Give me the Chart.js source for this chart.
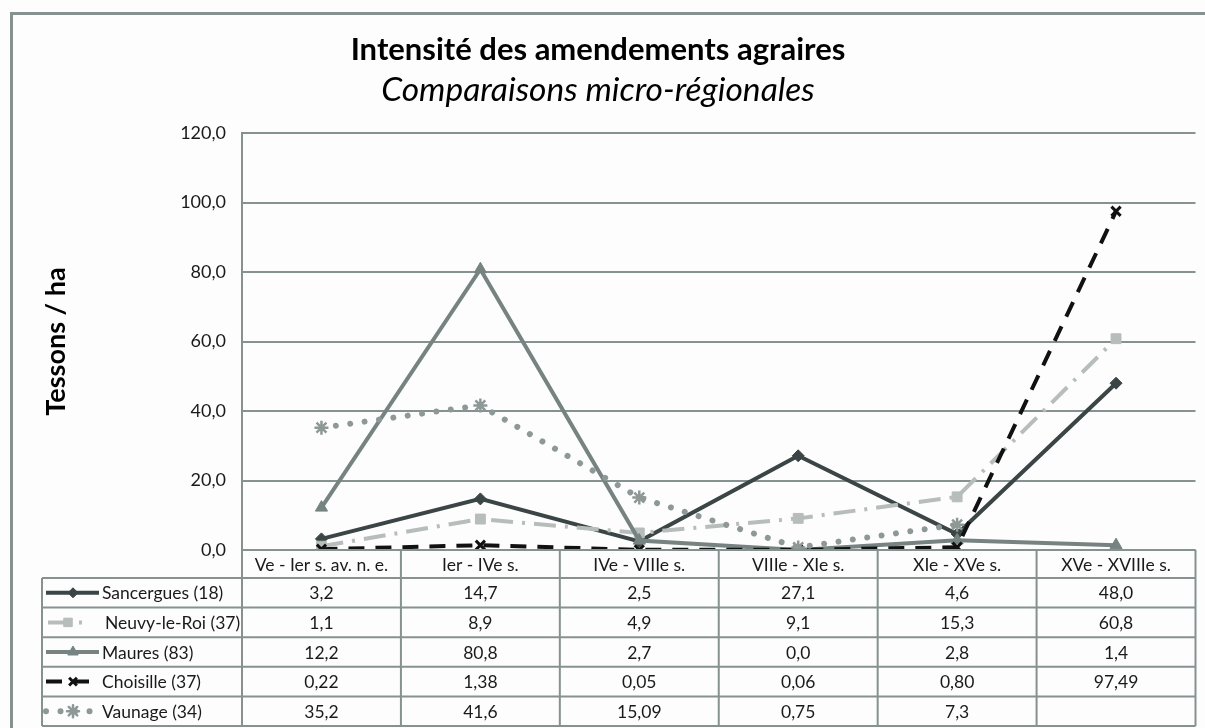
<!DOCTYPE html>
<html>
<head>
<meta charset="utf-8">
<script src="https://cdn.jsdelivr.net/npm/chart.js@4.4.1/dist/chart.umd.min.js"></script>
<style>
  html, body { margin: 0; padding: 0; background: #fdfdfd; }
  canvas { display: block; }
</style>
</head>
<body>
<canvas id="c" width="1205" height="728"></canvas>
<script>
// ---- data ----
const categories = ['Ve - Ier s. av. n. e.', 'Ier - IVe s.', 'IVe - VIIIe s.', 'VIIIe - XIe s.', 'XIe - XVe s.', 'XVe - XVIIIe s.'];
const seriesNames = ['Sancergues (18)', 'Neuvy-le-Roi (37)', 'Maures (83)', 'Choisille (37)', 'Vaunage (34)'];
const sancergues = [3.2, 14.7, 2.5, 27.1, 4.6, 48.0];
const neuvy = [1.1, 8.9, 4.9, 9.1, 15.3, 60.8];
const maures = [12.2, 80.8, 2.7, 0.0, 2.8, 1.4];
const choisille = [0.22, 1.38, 0.05, 0.06, 0.80, 97.49];
const vaunage = [35.2, 41.6, 15.09, 0.75, 7.3, null];
// decimals shown in the data table
const sancerguesDec = [1, 1, 1, 1, 1, 1];
const neuvyDec = [1, 1, 1, 1, 1, 1];
const mauresDec = [1, 1, 1, 1, 1, 1];
const choisilleDec = [2, 2, 2, 2, 2, 2];
const vaunageDec = [1, 1, 2, 2, 1, 1];
const yTicks = [0, 20, 40, 60, 80, 100, 120];

const FONT = 'Lato, "Open Sans", sans-serif';
const GRID = '#86928f';
const TXT = '#1a1a1a';

const styles = [
  { color: '#3b4545', dash: [], width: 4, point: 'rectRot', r: 6, pbw: 1 },
  { color: '#b7bdbb', dash: [22, 9, 3, 9], width: 4, point: 'rect', r: 7, pbw: 1 },
  { color: '#768381', dash: [], width: 4, point: 'triangle', r: 7, pbw: 1 },
  { color: '#111111', dash: [16, 11], width: 4, point: 'crossRot', r: 6.5, pbw: 3 },
  { color: '#8e9896', dash: [0.01, 14.5], width: 6, point: 'star', r: 7, pbw: 2.5, cap: 'round' }
];
const values = [sancergues, neuvy, maures, choisille, vaunage];
const decs = [sancerguesDec, neuvyDec, mauresDec, choisilleDec, vaunageDec];

const fmt = (v, d) => (v === null || v === undefined) ? '' : v.toFixed(d).replace('.', ',');

const datasets = values.map((vals, i) => {
  const s = styles[i];
  return {
    label: seriesNames[i],
    data: vals,
    borderColor: s.color,
    backgroundColor: s.color,
    borderWidth: s.width,
    borderDash: s.dash,
    borderCapStyle: s.cap || 'butt',
    pointStyle: s.point,
    pointRadius: s.r,
    pointBorderWidth: s.pbw,
    pointBackgroundColor: s.color,
    pointBorderColor: s.color,
    tension: 0,
    spanGaps: false,
    order: 5 - i
  };
});

const frameAndTable = {
  id: 'frameAndTable',
  beforeDraw(chart) {
    const ctx = chart.ctx;
    ctx.save();
    ctx.fillStyle = '#fdfdfd';
    ctx.fillRect(0, 0, chart.width, chart.height);
    ctx.strokeStyle = GRID;
    ctx.lineWidth = 3;
    ctx.strokeRect(11.5, 13.5, 1400, 900);
    ctx.restore();
  },
  afterDraw(chart) {
    const ctx = chart.ctx;
    const xs = chart.scales.x;
    const area = chart.chartArea;
    const colW = (area.right - area.left) / categories.length;
    const headTop = area.bottom;
    const headH = 28;
    const rowH = 29.6;
    const legL = 42;
    const tableBottom = headTop + headH + rowH * seriesNames.length;
    ctx.save();
    ctx.strokeStyle = GRID;
    ctx.lineWidth = 2;
    ctx.beginPath();
    ctx.moveTo(area.left, headTop); ctx.lineTo(area.right, headTop);
    for (let r = 0; r <= seriesNames.length; r++) {
      const y = headTop + headH + r * rowH;
      ctx.moveTo(legL, y); ctx.lineTo(area.right, y);
    }
    ctx.moveTo(legL, headTop + headH); ctx.lineTo(legL, tableBottom);
    for (let c = 0; c <= categories.length; c++) {
      const x = area.left + c * colW;
      ctx.moveTo(x, headTop); ctx.lineTo(x, tableBottom);
    }
    ctx.stroke();

    ctx.fillStyle = TXT;
    ctx.font = '17.5px ' + FONT;
    ctx.textAlign = 'center';
    ctx.textBaseline = 'middle';
    categories.forEach((c, i) => {
      ctx.fillText(c, xs.getPixelForValue(i), headTop + headH / 2 + 1);
    });
    values.forEach((vals, r) => {
      const yc = headTop + headH + r * rowH + rowH / 2 + 1;
      vals.forEach((v, i) => {
        ctx.fillText(fmt(v, decs[r][i]), xs.getPixelForValue(i), yc);
      });
    });
    values.forEach((vals, r) => {
      const s = styles[r];
      const yc = headTop + headH + r * rowH + rowH / 2;
      ctx.save();
      ctx.strokeStyle = s.color;
      ctx.fillStyle = s.color;
      ctx.lineWidth = s.width;
      ctx.lineCap = s.cap || 'butt';
      ctx.setLineDash(s.dash);
      ctx.beginPath();
      const x0 = r === 1 ? 48 : 46, x1 = r === 1 ? 88 : 99;
      ctx.moveTo(x0, yc); ctx.lineTo(x1, yc);
      ctx.stroke();
      ctx.setLineDash([]);
      ctx.lineWidth = s.pbw;
      Chart.helpers.drawPoint(ctx, { pointStyle: s.point, radius: s.r - 1, rotation: 0, borderWidth: s.pbw }, r === 1 ? 68 : 73, yc);
      ctx.restore();
      ctx.fillStyle = TXT;
      ctx.textAlign = 'left';
      ctx.font = '17.5px ' + FONT;
      ctx.fillText(seriesNames[r], r === 1 ? 105 : 102, yc + 1);
    });
    ctx.restore();
  }
};

new Chart(document.getElementById('c'), {
  type: 'line',
  data: { labels: categories, datasets },
  options: {
    responsive: false,
    devicePixelRatio: 1,
    animation: false,
    layout: { padding: { left: 0, right: 9, top: 12, bottom: 2 } },
    plugins: {
      legend: { display: false },
      tooltip: { enabled: false },
      title: {
        display: true,
        text: 'Intensité des amendements agraires',
        color: '#000',
        font: { family: FONT, size: 31, weight: 'bold' },
        padding: { top: 19, bottom: 0 }
      },
      subtitle: {
        display: true,
        text: 'Comparaisons micro-régionales',
        color: '#000',
        font: { family: FONT, size: 33.5, style: 'italic', weight: 'normal' },
        padding: { top: 2, bottom: 22.6 }
      }
    },
    scales: {
      x: {
        type: 'category',
        offset: true,
        grid: { display: false },
        border: { display: false },
        ticks: { display: false },
        afterFit(s) { s.height = 176; }
      },
      y: {
        min: 0, max: 120,
        afterBuildTicks(s) { s.ticks = yTicks.map(v => ({ value: v })); },
        afterFit(s) { s.width = 242; },
        grid: { color: GRID, lineWidth: 2, drawTicks: false },
        border: { display: true, color: GRID, width: 2 },
        ticks: {
          color: TXT,
          font: { family: FONT, size: 18 },
          padding: 16,
          callback: v => v.toFixed(1).replace('.', ',')
        },
        title: {
          display: true,
          text: 'Tessons / ha',
          color: '#000',
          font: { family: FONT, size: 27, weight: 'bold' },
          padding: { top: 40, bottom: 0 }
        }
      }
    }
  },
  plugins: [frameAndTable]
});
</script>
</body>
</html>
